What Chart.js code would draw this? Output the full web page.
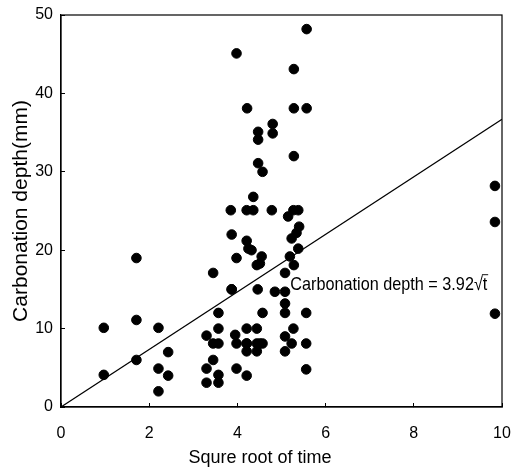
<!DOCTYPE html>
<html>
<head>
<meta charset="utf-8">
<script src="https://cdn.jsdelivr.net/npm/chart.js@4.4.0/dist/chart.umd.min.js"></script>
<style>
  html, body { margin: 0; padding: 0; background: #fff; }
  #wrap { width: 520px; height: 471px; }
</style>
</head>
<body>
<div id="wrap"><canvas id="myChart"></canvas></div>
<script>
// measured points: square root of time vs carbonation depth (mm)
const sqrtTime = [
    0.97, 0.97, 1.71, 1.71, 1.71, 2.21, 2.43, 2.21, 2.43, 2.21,
    3.45, 3.57, 3.57, 3.30, 3.45, 3.57, 3.45, 3.30, 3.57, 3.30, 3.57,
    3.85, 3.87, 3.98, 3.87, 3.95, 3.98, 3.98,
    4.21, 4.36, 4.78, 5.27, 5.38, 5.15, 4.21, 4.25, 4.32, 4.36,
    5.40, 5.34, 5.23, 5.38, 4.55, 4.51, 4.44, 5.19, 5.28, 5.08,
    4.46, 4.85, 5.08, 5.08, 5.08, 4.57, 5.56, 3.87,
    4.21, 4.44, 5.27, 4.21, 5.08, 4.21, 4.44, 4.51, 4.57, 4.21, 4.44,
    5.23, 5.08, 5.56, 4.21, 5.56,
    5.57, 3.98, 5.28, 4.22, 5.28, 5.57, 4.80, 4.80, 4.47, 4.47,
    5.28, 4.47, 4.57, 9.84, 9.84, 9.84
];
const depth = [
    10.1, 4.1, 19.0, 11.1, 6.0, 10.1, 7.0, 4.9, 4.0, 2.0,
    17.1, 12.0, 10.0, 9.1, 8.1, 8.1, 6.0, 4.9, 4.1, 3.1, 3.1,
    25.1, 22.0, 19.0, 15.0, 9.2, 8.1, 4.9,
    25.1, 25.1, 25.1, 25.1, 25.1, 24.3, 21.2, 20.2, 20.0, 26.8,
    23.0, 22.2, 21.5, 20.2, 19.2, 18.3, 18.1, 19.2, 18.1, 17.1,
    15.0, 14.7, 14.7, 13.2, 12.0, 12.0, 12.0, 15.0,
    10.0, 10.0, 10.0, 8.1, 9.0, 8.1, 8.1, 8.1, 8.1, 7.1, 7.1,
    8.1, 7.1, 8.1, 4.0, 4.8,
    48.2, 45.1, 43.1, 38.1, 38.1, 38.1, 36.1, 34.9, 35.1, 34.1,
    32.0, 31.1, 30.0, 28.2, 23.6, 11.9
];
// fitted line end points
const fitX = [0, 10];
const fitY = [0, 36.7];
const xTicks = [0, 2, 4, 6, 8, 10];
const yTicks = [0, 10, 20, 30, 40, 50];

const points = sqrtTime.map((x, i) => ({ x: x, y: depth[i] }));
const fitLine = fitX.map((x, i) => ({ x: x, y: fitY[i] }));

const fam = '"Liberation Sans", Arial, sans-serif';
const tickFont = { family: fam, size: 16 };

// frame round the plot, x title and the equation label
const framePlugin = {
    id: 'frame',
    afterDraw(chart) {
        const ctx = chart.ctx;
        const a = chart.chartArea;
        ctx.save();
        ctx.strokeStyle = '#000';
        ctx.lineWidth = 1.2;
        ctx.strokeRect(a.left, a.top, a.right - a.left, a.bottom - a.top);

        ctx.fillStyle = '#000';
        ctx.textBaseline = 'middle';
        ctx.textAlign = 'center';
        ctx.font = '18px ' + fam;
        ctx.fillText('Squre root of time', 260, 458);
        ctx.textAlign = 'left';

        const xs = chart.scales.x, ys = chart.scales.y;
        const px = xs.getPixelForValue(5.2);
        const py = ys.getPixelForValue(15.6);
        ctx.font = '19px ' + fam;
        const main = 'Carbonation depth = 3.92';
        const w = ctx.measureText(main).width;
        const tw = ctx.measureText('t').width;
        const rw = ctx.measureText('\u221A').width;
        const total = w + rw + tw;
        const scale = 197 / total;
        ctx.translate(px, py);
        ctx.scale(scale, 1);
        ctx.fillText(main, 0, 0);
        ctx.fillText('\u221A', w, 0);
        ctx.fillText('t', w + rw, 0);
        ctx.lineWidth = 1;
        ctx.beginPath();
        ctx.moveTo(w + rw - 1, -10);
        ctx.lineTo(w + rw + tw + 1, -10);
        ctx.stroke();
        ctx.restore();
    }
};

const ctx = document.getElementById('myChart');
let chart = new Chart(ctx, {
    type: 'scatter',
    data: {
        datasets: [{
            data: points,
            backgroundColor: '#000',
            borderColor: '#000',
            pointRadius: 4.8,
            pointHoverRadius: 4.8,
            order: 1
        }, {
            type: 'line',
            data: fitLine,
            borderColor: '#000',
            borderWidth: 1.2,
            pointRadius: 0,
            fill: false,
            order: 2
        }]
    },
    options: {
        responsive: true,
        maintainAspectRatio: false,
        animation: false,
        layout: { padding: { top: 15, right: 18, bottom: 0, left: 0 } },
        plugins: {
            legend: { display: false },
            tooltip: { enabled: false }
        },
        scales: {
            x: {
                type: 'linear',
                min: 0,
                max: 10,
                afterBuildTicks: (s) => { s.ticks = xTicks.map(v => ({ value: v })); },
                afterFit: (s) => { s.height = 64; s.paddingLeft = 0; s.paddingRight = 0; },
                grid: { display: true, drawOnChartArea: false, drawTicks: true, tickLength: -4, color: '#000' },
                border: { display: true, color: '#000', width: 1.2 },
                ticks: { color: '#000', font: tickFont, padding: 21 }
            },
            y: {
                type: 'linear',
                min: 0,
                max: 50,
                afterBuildTicks: (s) => { s.ticks = yTicks.map(v => ({ value: v })); },
                afterFit: (s) => { s.width = 61; s.paddingTop = 0; s.paddingBottom = 0; },
                grid: { display: true, drawOnChartArea: false, drawTicks: true, tickLength: -4, color: '#000' },
                border: { display: true, color: '#000', width: 1.2 },
                ticks: { color: '#000', font: tickFont, padding: 12 },
                title: { display: true, text: 'Carbonation depth(mm)', color: '#000', font: { family: fam, size: 21 }, padding: { top: 9, bottom: 0 } }
            }
        }
    },
    plugins: [framePlugin]
});
</script>
</body>
</html>
